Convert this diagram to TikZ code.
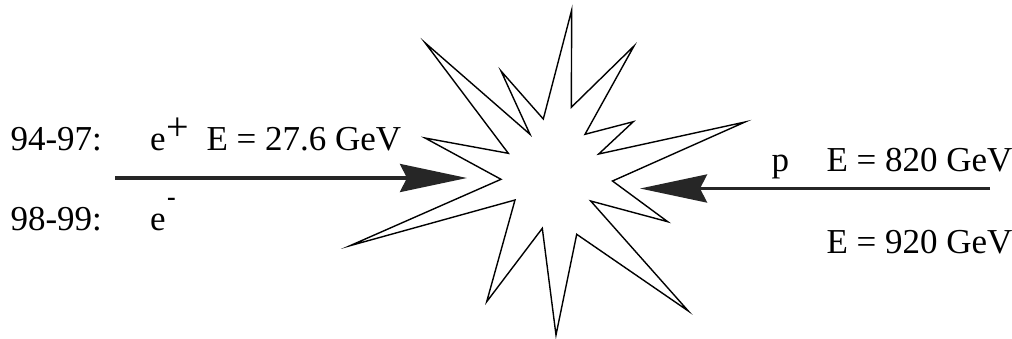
\documentclass[tikz,border=0pt]{standalone}
\usepackage{fontspec}
\setmainfont{Liberation Serif}
\usetikzlibrary{arrows.meta}
\tikzset{
  lbl/.style={anchor=base west, inner sep=0pt, outer sep=0pt, font=\fontsize{35}{40}\selectfont},
  sgn/.style={anchor=center, inner sep=0pt, outer sep=0pt},
  beam/.style={line width=3.5pt, black!85, -{Stealth[length=67pt, width=28pt, inset=7pt, fill=black!85]}},
  burst/.style={line width=1.4pt, black, line join=miter, miter limit=20}
}
\begin{document}
\begin{tikzpicture}[x=1pt,y=-1pt]
\useasboundingbox (0,0) rectangle (1012,338);
% explosion star
\draw[burst] (571.7,10) -- (571.3,107.3) -- (634,46) -- (585,134.3) -- (633.3,121.7)
  -- (598.7,154) -- (745,122) -- (612.5,181) -- (667.7,221.7) -- (590.7,201)
  -- (688.3,311) -- (576.7,234.3) -- (556,335) -- (542.3,228.3) -- (486.7,301.7)
  -- (515,200) -- (350,245.7) -- (501,179.3) -- (425,138) -- (508.3,153.3)
  -- (425,42.7) -- (530,134.3) -- (501,71) -- (543.3,119) -- cycle;
% beams
\coordinate (lstart) at (115,178);
\coordinate (ltip) at (467,178);
\coordinate (rstart) at (990,188.5);
\coordinate (rtip) at (640,188.5);
\draw[beam] (lstart) -- (ltip);
\draw[beam] (rstart) -- (rtip);
% left labels
\node[lbl] (y1) at (10.5,150) {94-97:};
\node[lbl] (y2) at (10.5,230) {98-99:};
\node[lbl] (ep) at (150,150) {e};
\node[sgn, font=\fontsize{40}{40}\selectfont] (epl) at (177.5,129) {+};
\node[lbl] (em) at (150,230) {e};
\node[sgn, font=\fontsize{26}{26}\selectfont\bfseries] (emi) at (171.5,201.5) {-};
\node[lbl] (ee) at (206.5,150) {E = 27.6 GeV};
% right labels
\node[lbl] (p) at (771.5,171) {p};
\node[lbl] (pe1) at (826.5,171) {E = 820 GeV};
\node[lbl] (pe2) at (826.5,253.3) {E = 920 GeV};
\end{tikzpicture}
\end{document}
